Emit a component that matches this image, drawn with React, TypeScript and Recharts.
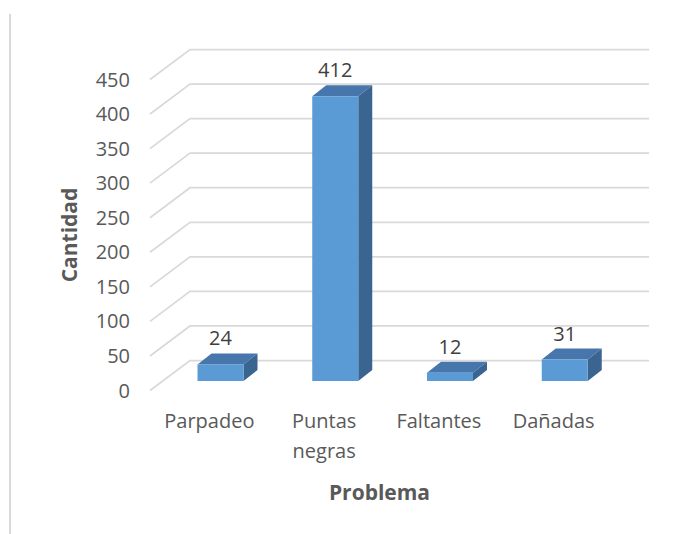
import React from "react";
import {
  BarChart,
  Bar,
  XAxis,
  YAxis,
  CartesianGrid,
  LabelList,
} from "recharts";

const categories = ["Parpadeo", "Puntas negras", "Faltantes", "Dañadas"];
const cantidades = [24, 412, 12, 31];
const yTicks = [0, 50, 100, 150, 200, 250, 300, 350, 400, 450];

const FONT = "'Open Sans', sans-serif";
const FRONT = "#5b9bd5";
const TOP = "#4676ab";
const SIDE = "#3a6591";
const GRID = "#d9d9d9";

// fake 3D: the floor is slanted by (WALL_DX, WALL_DY), bars sit part way in
const WALL_DX = 40;
const FRONT_DY = 9.5;
const BACK_DY = -20.5;
const BAR_SHIFT = 13.5;
const DEPTH_X = 14;
const DEPTH_Y = -11;

const data = categories.map((name, i) => ({ name, cantidad: cantidades[i] }));

const GridLine = (props: any) => {
  const { x1, x2, y1, index } = props;
  const pts = `${x1},${y1 + FRONT_DY} ${x1 + WALL_DX},${y1 + BACK_DY} ${
    x2 + WALL_DX
  },${y1 + BACK_DY}`;
  return (
    <polyline
      key={`grid-${index}`}
      points={pts}
      fill="none"
      stroke={GRID}
      strokeWidth={1.75}
    />
  );
};

const Box3D = (props: any) => {
  const { x, y, width, height } = props;
  if (!width || height == null) return null;
  const fx = x + BAR_SHIFT;
  const r = fx + width;
  const b = y + height;
  return (
    <g>
      <polygon
        points={`${fx},${y} ${fx + DEPTH_X},${y + DEPTH_Y} ${r + DEPTH_X},${
          y + DEPTH_Y
        } ${r},${y}`}
        fill={TOP}
      />
      <polygon
        points={`${r},${y} ${r + DEPTH_X},${y + DEPTH_Y} ${r + DEPTH_X},${
          b + DEPTH_Y
        } ${r},${b}`}
        fill={SIDE}
      />
      <rect x={fx} y={y} width={width} height={height} fill={FRONT} />
    </g>
  );
};

const ValueLabel = (props: any) => {
  const { x, y, width, value } = props;
  return (
    <text
      x={x + width / 2 + BAR_SHIFT}
      y={y - 19}
      textAnchor="middle"
      fontFamily={FONT}
      fontSize={20}
      fill="#404040"
    >
      {value}
    </text>
  );
};

const YTick = (props: any) => {
  const { x, y, payload } = props;
  return (
    <text
      x={x}
      y={y + FRONT_DY + 7}
      textAnchor="end"
      fontFamily={FONT}
      fontSize={20}
      fill="#595959"
    >
      {payload.value}
    </text>
  );
};

const XTick = (props: any) => {
  const { x, y, payload } = props;
  const words = String(payload.value).split(" ");
  return (
    <text
      x={x + 2}
      y={y + 47}
      textAnchor="middle"
      fontFamily={FONT}
      fontSize={20}
      fill="#595959"
    >
      {words.map((w, i) => (
        <tspan key={w} x={x + 2} dy={i === 0 ? 0 : 30}>
          {w}
        </tspan>
      ))}
    </text>
  );
};

const XTitle = (props: any) => {
  const { viewBox } = props;
  return (
    <text
      x={viewBox.x + viewBox.width / 2}
      y={viewBox.y + 119}
      textAnchor="middle"
      fontFamily={FONT}
      fontSize={21}
      fontWeight="bold"
      fill="#595959"
    >
      Problema
    </text>
  );
};

const YTitle = (props: any) => {
  const { viewBox } = props;
  const cx = 77;
  const cy = viewBox.y + viewBox.height / 2 + FRONT_DY;
  return (
    <text
      x={cx}
      y={cy}
      transform={`rotate(-90, ${cx}, ${cy})`}
      textAnchor="middle"
      fontFamily={FONT}
      fontSize={21}
      fontWeight="bold"
      fill="#595959"
    >
      Cantidad
    </text>
  );
};

export default function App() {
  return (
    <div
      style={{
        position: "absolute",
        left: 0,
        top: 0,
        width: 675,
        height: 534,
        background: "#fff",
      }}
    >
      <div
        style={{
          position: "absolute",
          left: 9,
          top: 14,
          width: 2,
          height: 520,
          background: GRID,
        }}
      />
      <BarChart
        width={675}
        height={534}
        data={data}
        margin={{ top: 70, right: 66, bottom: 23, left: 0 }}
        barSize={46}
      >
        <CartesianGrid vertical={false} horizontal={GridLine} />
        <XAxis
          dataKey="name"
          axisLine={false}
          tickLine={false}
          tickSize={0}
          tickMargin={0}
          height={130}
          interval={0}
          tick={<XTick />}
          label={<XTitle />}
        />
        <YAxis
          domain={[0, 450]}
          ticks={yTicks}
          interval={0}
          axisLine={false}
          tickLine={false}
          tickSize={0}
          tickMargin={20}
          width={150}
          tick={<YTick />}
          label={<YTitle />}
        />
        <Bar
          dataKey="cantidad"
          shape={<Box3D />}
          isAnimationActive={false}
        >
          <LabelList dataKey="cantidad" content={<ValueLabel />} />
        </Bar>
      </BarChart>
    </div>
  );
}
